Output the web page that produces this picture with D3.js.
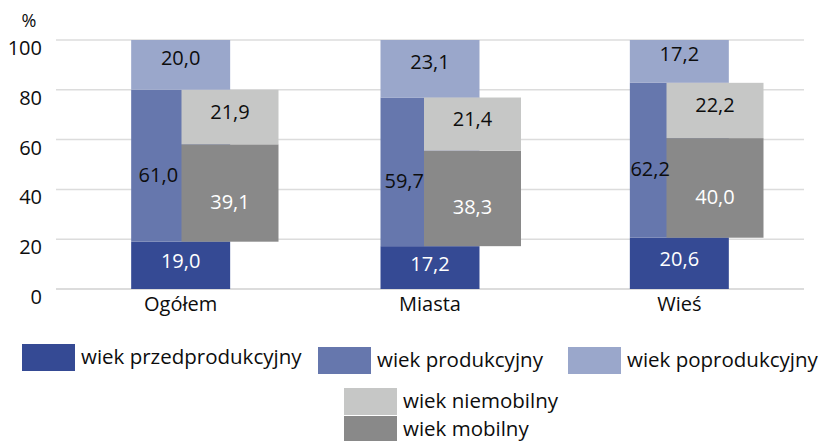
<!DOCTYPE html>
<html>
<head>
<meta charset="utf-8">
<script src="https://cdn.jsdelivr.net/npm/d3@7"></script>
<style>
  body { margin: 0; background: #fff; }
  svg text { font-family: "Open Sans", "Noto Sans", sans-serif; fill: #0d0d0d; }
</style>
</head>
<body>
<svg id="chart" width="821" height="441"></svg>
<script>
// values (%)
var categories = ["Ogółem", "Miasta", "Wieś"];
var przedprodukcyjny = [19.0, 17.2, 20.6];
var produkcyjny = [61.0, 59.7, 62.2];
var poprodukcyjny = [20.0, 23.1, 17.2];
var mobilny = [39.1, 38.3, 40.0];
var niemobilny = [21.9, 21.4, 22.2];
var yTicks = [0, 20, 40, 60, 80, 100];

var seriesNames = {
  przed: "wiek przedprodukcyjny",
  prod: "wiek produkcyjny",
  poprod: "wiek poprodukcyjny",
  niemob: "wiek niemobilny",
  mob: "wiek mobilny"
};
var colors = {
  przed: "#354a94", prod: "#6677ad", poprod: "#9aa7cb",
  niemob: "#c6c7c6", mob: "#898989"
};
var labelColor = { przed: "#fff", prod: "#0d0d0d", poprod: "#0d0d0d", niemob: "#0d0d0d", mob: "#fff" };
// small vertical nudges of the value labels, as in the original
var labelDy = { przed: -4, prod: 9, poprod: -7, niemob: -5, mob: 9 };

var pl = d3.formatLocale({decimal: ",", thousands: " ", grouping: [3], currency: ["", " zł"]});
var fmt = pl.format(".1f");

var rows = categories.map(function(c, i) {
  return { cat: c, przed: przedprodukcyjny[i], prod: produkcyjny[i], poprod: poprodukcyjny[i],
           mob: mobilny[i], niemob: niemobilny[i], base: przedprodukcyjny[i] };
});

var svg = d3.select("#chart");

var y = d3.scaleLinear().domain([0, 100]).range([289, 40]);
var x = d3.scaleBand().domain(categories).range([56, 804]).paddingInner(0.603).paddingOuter(0.3015);
// the grey bars sit on their own (secondary) category axis, slightly shifted
var x2 = d3.scaleBand().domain(categories).range([108.75, 836.25]).paddingInner(0.6).paddingOuter(0.3);

// gridlines
svg.append("g").selectAll("line")
    .data(yTicks)
  .enter().append("line")
    .attr("x1", 56).attr("x2", 804)
    .attr("y1", function(d) { return y(d); })
    .attr("y2", function(d) { return y(d); })
    .style("stroke", "#dcdcdc")
    .style("stroke-width", function(d) { return d === 0 ? 2 : 1.5; });

// y axis labels
svg.append("g").selectAll("text")
    .data(yTicks)
  .enter().append("text")
    .attr("x", 42)
    .attr("y", function(d) { return y(d) + 8; })
    .attr("dy", ".35em")
    .attr("text-anchor", "end")
    .style("font-size", "20px")
    .text(String);

svg.append("text")
    .attr("x", 29).attr("y", 21).attr("dy", ".35em")
    .attr("text-anchor", "middle")
    .style("font-size", "18px")
    .text("%");

// blue stacks
var blueKeys = ["przed", "prod", "poprod"];
var blueStack = d3.stack().keys(blueKeys)(rows);

var blue = svg.append("g").selectAll("g")
    .data(blueStack)
  .enter().append("g")
    .style("fill", function(s) { return colors[s.key]; });

blue.selectAll("rect")
    .data(function(s) { return s; })
  .enter().append("rect")
    .attr("x", function(d) { return x(d.data.cat); })
    .attr("y", function(d) { return y(d[1]); })
    .attr("width", x.bandwidth())
    .attr("height", function(d) { return y(d[0]) - y(d[1]); });

// grey stacks start on top of the pre-working-age part
var greyStack = d3.stack().keys(["base", "mob", "niemob"])(rows).slice(1);

var grey = svg.append("g").selectAll("g")
    .data(greyStack)
  .enter().append("g")
    .style("fill", function(s) { return colors[s.key]; });

grey.selectAll("rect")
    .data(function(s) { return s; })
  .enter().append("rect")
    .attr("x", function(d) { return x2(d.data.cat); })
    .attr("y", function(d) { return y(d[1]); })
    .attr("width", x2.bandwidth())
    .attr("height", function(d) { return y(d[0]) - y(d[1]); });

// value labels
function labelX(key, d) {
  if (key === "mob" || key === "niemob") return x2(d.data.cat) + x2.bandwidth() / 2;
  if (key === "prod") return (x(d.data.cat) + x2(d.data.cat)) / 2 + 2;
  return x(d.data.cat) + x.bandwidth() / 2;
}

blueStack.concat(greyStack).forEach(function(s) {
  svg.append("g").selectAll("text")
      .data(s)
    .enter().append("text")
      .attr("x", function(d) { return labelX(s.key, d); })
      .attr("y", function(d) { return y((d[0] + d[1]) / 2) + labelDy[s.key]; })
      .attr("dy", ".35em")
      .attr("text-anchor", "middle")
      .style("font-size", "20px")
      .style("fill", labelColor[s.key])
      .text(function(d) { return fmt(d[1] - d[0]); });
});

// category labels
svg.append("g").selectAll("text")
    .data(categories)
  .enter().append("text")
    .attr("x", function(d) { return x(d) + x.bandwidth() / 2; })
    .attr("y", 304)
    .attr("dy", ".35em")
    .attr("text-anchor", "middle")
    .style("font-size", "20px")
    .text(String);

// legend
var legendItems = [
  { key: "przed", x: 22, y: 344 },
  { key: "prod", x: 318, y: 347 },
  { key: "poprod", x: 568, y: 347 },
  { key: "niemob", x: 344, y: 388 },
  { key: "mob", x: 344, y: 416 }
];

var legend = svg.append("g").selectAll("g")
    .data(legendItems)
  .enter().append("g")
    .attr("transform", function(d) { return "translate(" + d.x + "," + d.y + ")"; });

legend.append("rect")
    .attr("width", 53)
    .attr("height", 27)
    .style("fill", function(d) { return colors[d.key]; });

legend.append("text")
    .attr("x", 59)
    .attr("y", 13)
    .attr("dy", ".35em")
    .style("font-size", "20.5px")
    .text(function(d) { return seriesNames[d.key]; });
</script>
</body>
</html>
